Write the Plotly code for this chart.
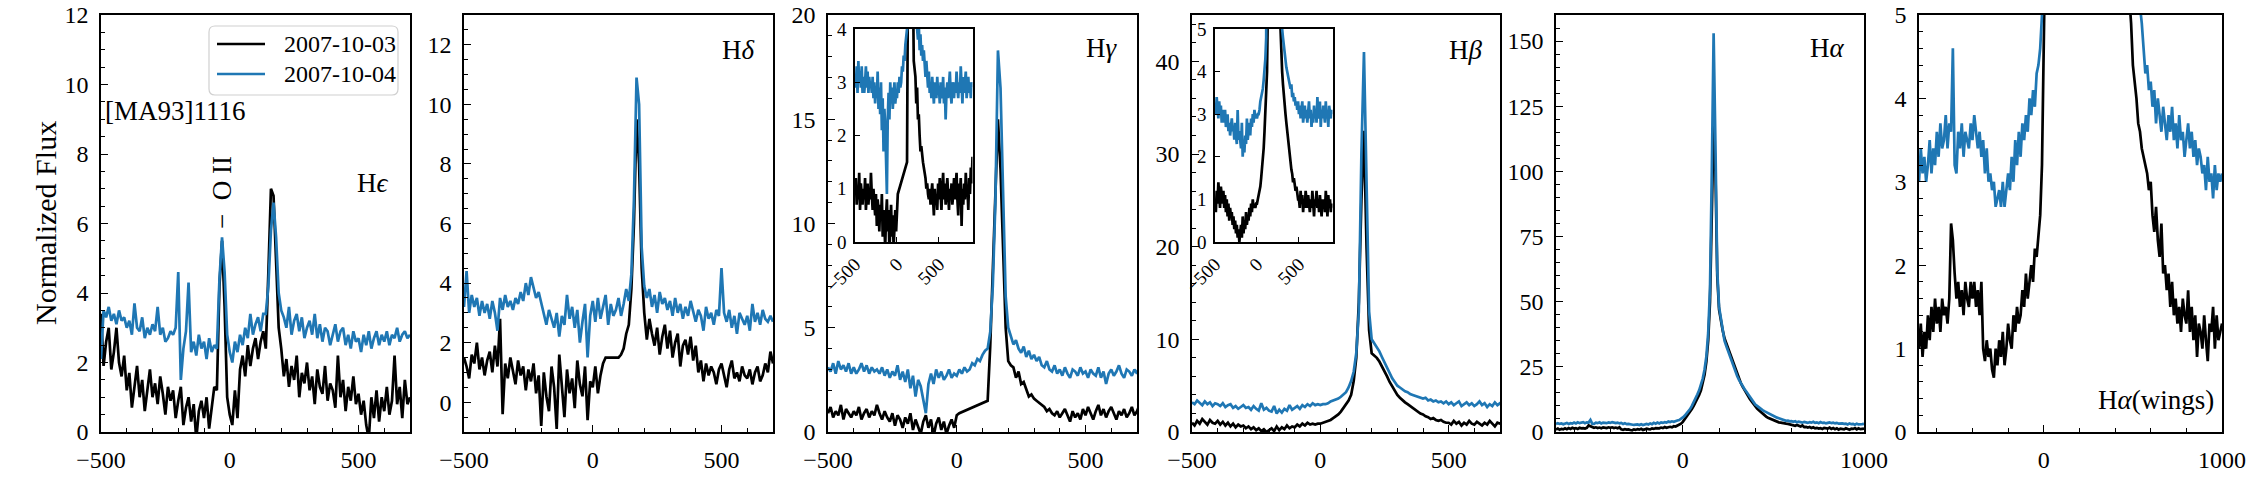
import plotly.graph_objects as go

W, H = 2250, 482
FONT = "Liberation Serif"
BLACK = "#000000"
BLUE = "#1f77b4"

# ------------------------------------------------------------------ data
DATES = ["2007-10-03", "2007-10-04"]

# H-epsilon (velocity grid -500..700 km/s, step 10)
HE_X = list(range(-500, 710, 10))
HE_BLACK = [3.4, 1.9, 2.6, 3.0, 1.8, 2.3, 3.0, 2.0, 1.6, 2.2,
            1.2, 1.7, 0.7, 1.4, 1.9, 1.0, 1.5, 0.6, 1.3, 1.8,
            1.0, 1.4, 0.8, 1.6, 1.1, 0.5, 1.3, 0.9, 1.2, 0.4,
            0.9, 1.3, 0.2, 0.7, 1.0, 0.3, 0.8, -0.2, 0.6, 0.9,
            0.4, 1.0, 0.1, 0.7, 1.3, 1.2, 4.2, 5.5, 3.6, 1.0,
            0.5, 0.2, 1.2, 0.4, 1.8, 2.2, 1.6, 2.5, 1.9, 2.4,
            2.7, 2.1, 2.6, 2.9, 2.4, 4.6, 7.0, 6.8, 4.8, 3.0,
            2.4, 1.6, 2.1, 1.3, 1.9, 1.5, 2.2, 1.0, 1.7, 1.4,
            2.0, 1.2, 1.6, 0.8, 1.8, 1.3, 1.1, 1.9, 0.9, 1.4,
            1.2, 0.7, 2.2, 1.0, 1.5, 0.6, 1.3, 0.9, 1.6, 0.8,
            1.1, 0.5, 0.9, 0.2, -0.2, 1.0, 0.4, 1.2, 0.3, 1.0,
            0.6, 1.3, 0.5, 0.9, 2.2, 0.8, 1.3, 0.4, 1.5, 0.8,
            1.0]
HE_BLUE = [2.1, 3.5, 3.3, 3.6, 3.2, 3.4, 3.1, 3.5, 3.2, 3.3,
           3.0, 3.2, 2.8, 3.7, 3.0, 2.9, 3.3, 2.7, 3.0, 2.8,
           3.1, 2.9, 3.6, 2.8, 3.0, 2.6, 2.7, 2.9, 2.8, 3.0,
           4.6, 1.5, 2.4, 2.9, 4.3, 2.3, 2.6, 2.2, 2.8, 2.4,
           2.6, 2.1, 2.7, 2.3, 2.5, 2.4, 4.4, 5.6, 4.6, 2.8,
           2.3, 2.0, 2.6, 2.3, 2.8, 2.5, 3.0, 2.7, 3.4, 2.8,
           3.1, 3.3, 2.9, 3.4, 3.4, 4.2, 5.8, 6.6, 5.6, 4.0,
           3.5, 3.3, 3.0, 3.6, 2.8, 3.2, 3.4, 2.9, 3.3, 2.7,
           3.0, 3.2, 2.8, 3.4, 2.7, 3.1, 2.6, 3.0, 2.9, 2.5,
           2.8, 3.1, 2.6, 2.9, 3.0, 2.5, 2.8, 2.4, 2.9, 2.6,
           2.7, 2.3, 2.8, 2.5, 2.9, 2.4, 2.7, 2.9, 2.5, 2.8,
           2.6, 2.9, 2.5, 2.8, 2.7, 3.0, 2.6, 2.8, 2.9, 2.7,
           2.8]

# H-delta
HD_X = list(range(-500, 710, 10))
HD_BLACK = [1.5, 1.2, 0.8, 1.6, 1.3, 2.0, 1.1, 1.5, 0.9, 1.4,
            1.7, 1.0, 1.9, 1.2, 2.8, -0.4, 1.3, 0.8, 1.5, 1.0,
            0.6, 1.4, 0.9, 1.2, 0.4, 1.1, 0.7, 1.3, 0.3, 0.9,
            -0.8, 1.0, 0.2, -0.3, 1.2, 0.5, -0.9, 1.6, 0.4, -0.5,
            1.1, 0.3, 0.8, -0.2, 1.4, 0.6, 0.2, 1.2, -0.6, 0.7,
            0.5, 1.2, 0.3, 0.9, 1.3, 1.5, 1.5, 1.5, 1.5, 1.5,
            1.5, 1.6, 1.8, 2.3, 2.6, 3.8, 6.0, 9.5, 8.0, 4.5,
            3.0, 2.1, 2.8, 2.3, 1.9, 2.5, 1.6, 2.2, 2.6, 1.8,
            2.4, 1.5, 2.0, 2.3, 1.2, 1.9, 2.1, 1.6, 2.2, 1.4,
            1.9, 1.0, 1.4, 0.7, 1.3, 0.9, 1.2, 1.0, 0.6, 1.1,
            1.3, 0.9, 0.5, 1.1, 1.4, 0.8, 1.0, 0.7, 1.2, 0.9,
            0.8, 1.1, 0.6, 1.0, 1.2, 0.7, 0.9, 1.3, 1.0, 1.7,
            1.3]
HD_BLUE = [3.2, 4.4, 3.0, 3.6, 3.2, 3.5, 2.9, 3.4, 3.0, 3.3,
           2.8, 3.4, 3.0, 2.4, 3.5, 3.1, 3.6, 3.2, 3.4, 3.1,
           3.5, 3.3, 3.7, 3.4, 4.0, 3.6, 4.2, 3.8, 3.5, 3.7,
           3.3, 3.0, 2.6, 3.1, 2.8, 2.5, 3.0, 2.2, 2.9, 2.6,
           3.6, 2.8, 3.2, 2.5, 3.1, 2.0, 2.7, 3.3, 1.5, 2.9,
           3.4, 2.7, 3.5, 2.8, 3.2, 3.6, 2.6, 3.3, 2.9, 3.1,
           3.5, 2.9, 3.3, 3.8, 3.4, 4.3, 6.8, 10.9, 10.0, 5.2,
           3.9, 3.5, 3.8, 3.2, 3.6, 3.0, 3.7, 3.3, 3.5, 3.1,
           3.4, 2.9, 3.5, 3.0, 3.3, 2.8, 3.2, 2.9, 3.4, 3.0,
           2.7, 3.1, 2.9, 2.4, 3.2, 2.8, 3.0, 2.6, 3.1, 2.9,
           4.5, 3.0, 2.7, 3.1, 2.5, 2.9, 2.3, 3.0, 2.8, 2.6,
           2.9, 2.4, 3.3, 2.7, 3.0, 2.6, 3.1, 2.8, 2.7, 2.9,
           2.7]

# H-gamma (grid -500..900; 2007-10-03 has a gap between 10 and 120 km/s)
HG_X_BLUE = list(range(-500, 910, 10))
HG_X_BLACK = [v for v in range(-500, 910, 10) if not 10 < v < 120]
HG_BLACK = [0.9, 1.2, 0.7, 1.0, 0.8, 1.3, 0.6, 1.1, 0.9, 0.7,
            1.0, 0.8, 1.2, 0.6, 0.9, 1.1, 0.7, 1.0, 0.8, 1.3,
            0.9, 0.6, 1.0, 0.7, 0.5, 0.9, 0.3, 0.8, 0.6, 0.2,
            0.7, 0.4, 0.9, 0.1, 0.6, 0.3, -0.1, 0.5, 0.8, 0.2,
            0.6, -0.2, 0.4, 0.7, 0.1, 0.5, -0.1, 0.3, 0.6, 0.2,
            0.8, 0.9,
            1.5, 4.1, 7.7, 11.2, 15.0, 12.6, 8.6, 5.0,
            3.4, 3.2, 3.1, 2.6, 2.9, 2.3, 2.4, 2.0, 1.7, 1.8,
            1.6, 1.5, 1.4, 1.3, 1.2, 1.0, 1.1, 0.9, 0.8, 1.0,
            0.7, 0.9, 1.1, 0.8, 0.5, 1.0, 0.7, 0.9, 0.6, 1.1,
            0.8, 1.2, 0.9, 0.6, 1.0, 1.3, 0.8, 1.1, 0.7, 1.0,
            1.2, 0.9, 0.6, 1.0, 0.8, 1.1, 0.7, 0.9, 1.2, 0.8,
            1.0, 1.3, 0.8, 0.5, 1.1, 0.9, 1.2, 0.3, 1.0, 0.7,
            1.1, 0.8, 1.3, 0.9, 1.0, 0.6, 1.2, 0.9, 1.4, 1.1,
            1.6]
HG_BLUE = [3.1, 2.9, 3.3, 2.8, 3.4, 3.0, 3.2, 2.9, 3.3, 2.8,
           3.1, 2.8, 3.0, 3.3, 2.9, 3.2, 2.8, 3.1, 2.9, 3.0,
           2.8, 3.1, 2.7, 3.0, 2.6, 2.9, 2.7, 3.2, 2.5, 2.9,
           2.4, 3.0, 2.1, 2.7, 1.7, 2.5, 2.2, 1.6, 0.9, 2.3,
           2.8, 2.3, 3.0, 2.6, 2.9, 2.5, 2.7, 3.0, 2.6, 2.8,
           2.7, 3.0, 2.8, 3.1, 2.9, 3.0, 3.3, 3.2, 3.5, 3.4,
           3.7, 3.9, 4.0, 4.8, 7.0, 11.0, 18.3, 16.5, 11.5, 6.5,
           5.0, 4.6, 4.2, 4.4, 4.0, 3.8, 4.1, 3.6, 3.9, 3.5,
           3.7, 3.4, 3.6, 3.2, 3.1, 3.4, 3.0, 2.9, 3.2, 2.8,
           3.0, 2.7, 3.1, 2.8, 2.6, 3.0, 2.9, 2.7, 3.1, 2.8,
           2.9, 2.6, 3.0, 2.8, 2.7, 3.1, 2.6, 2.9, 2.3, 2.8,
           3.0, 2.7, 2.9, 3.2, 2.8, 2.6, 3.0, 2.9, 2.7, 3.0,
           2.8, 3.2, 2.9, 2.7, 3.0, 2.8, 3.3, 2.9, 2.6, 3.1,
           2.8, 3.0, 3.2, 2.7, 2.9, 3.1, 2.8, 3.0, 2.7, 3.0,
           2.9]

# H-beta (grid -500..900)
HB_X = list(range(-500, 910, 10))
HB_BLACK = [1.0, 0.7, 1.2, 0.9, 1.4, 1.1, 0.8, 1.3, 1.0, 0.9,
            1.2, 0.8, 1.1, 0.7, 1.0, 0.6, 0.9, 0.5, 0.8, 0.6,
            0.7, 0.4, 0.6, 0.3, 0.5, 0.2, 0.4, 0.1, 0.3, 0.0,
            0.2, 0.4, 0.1, 0.6, 0.2, 0.5, 0.3, 0.7, 0.4, 0.6,
            0.5, 0.8, 0.6, 0.9, 0.7, 1.0, 0.8, 0.9, 0.8, 0.9,
            0.9, 1.0, 1.1, 1.2, 1.3, 1.5, 1.7, 1.9, 2.2, 2.6,
            3.0, 3.4, 4.0, 5.5, 8.0, 14.0, 25.0, 32.5, 20.0, 11.0,
            8.5, 8.3, 8.0, 7.6, 7.1, 6.6, 6.0, 5.4, 4.9, 4.4,
            4.0, 3.7, 3.4, 3.2, 3.0, 2.8, 2.6, 2.4, 2.2, 2.0,
            1.9, 1.7, 1.6, 1.4, 1.5, 1.3, 1.2, 1.3, 1.1, 1.0,
            1.0, 0.8, 1.2, 0.9, 1.1, 0.7, 1.0, 0.8, 1.2, 0.9,
            0.8, 1.1, 0.9, 0.7, 1.0, 0.8, 1.2, 0.9, 0.6, 1.0,
            0.9, 1.2, 0.8, 1.0, 0.7, 1.1, 0.9, 0.6, 1.0, 0.8,
            1.0, 0.7, 1.2, 0.9, 0.6, 1.1, 0.8, 1.0, 0.7, 0.9,
            0.8]
HB_BLUE = [3.2, 3.0, 3.4, 3.1, 2.9, 3.3, 3.0, 3.2, 2.8, 3.1,
           3.0, 2.8, 3.1, 2.7, 2.9, 3.0, 2.6, 2.8, 2.5, 2.7,
           2.9, 2.6, 2.7, 2.4, 2.8, 2.5, 2.3, 3.1, 2.4, 2.6,
           2.3, 2.2, 2.8, 2.0, 2.4, 2.1, 2.5, 2.3, 2.9, 2.4,
           2.6, 2.8, 2.5, 2.9, 2.7, 3.0, 2.8, 3.1, 2.9, 3.0,
           2.9, 3.0, 3.0, 3.1, 3.3, 3.4, 3.5, 3.6, 3.8, 4.0,
           4.3, 4.8, 5.5, 6.5, 8.5, 13.0, 30.0, 41.0, 27.0, 13.0,
           10.0, 9.6, 9.2, 8.7, 8.1, 7.5, 6.9, 6.3, 5.8, 5.4,
           5.0, 4.8, 4.6, 4.4, 4.3, 4.1, 4.0, 3.9, 3.8, 3.7,
           3.6, 3.7, 3.4, 3.5, 3.3, 3.4, 3.2, 3.3, 3.1, 3.3,
           3.0, 3.2, 2.9, 3.1, 3.3, 2.8, 3.0, 3.2, 2.9, 3.1,
           2.8, 3.0, 3.3, 2.9, 3.1, 2.7, 3.0, 2.8, 3.2, 2.9,
           3.1, 2.8, 3.4, 3.0, 2.9, 3.3, 2.7, 3.1, 2.9, 3.2,
           3.0, 2.8, 3.3, 2.9, 3.1, 2.7, 3.2, 3.0, 2.9, 3.1,
           3.0]

# H-alpha (grid -700..1000), shown in full and as wings
HA_X = list(range(-700, 1010, 10))
HA_BLACK = [1.0, 1.3, 0.9, 1.2, 1.0, 1.4, 1.1, 1.5, 1.2, 1.6,
            1.3, 1.5, 1.2, 1.6, 1.4, 1.5, 1.3, 1.6, 2.5, 2.3,
            1.9, 1.6, 1.8, 1.5, 1.7, 1.4, 1.8, 1.6, 1.5, 1.8,
            1.6, 1.8, 1.5, 1.7, 1.4, 1.8, 1.0, 0.85, 1.1, 0.9,
            1.0, 0.75, 0.65, 1.0, 0.8, 1.1, 0.9, 1.2, 0.8, 1.0,
            1.3, 1.1, 1.0, 1.4, 1.2, 1.5, 1.3, 1.4, 1.7, 1.5,
            1.9, 1.6, 1.8, 2.0, 1.8, 2.2, 2.1, 2.4, 2.6, 3.2,
            3.9, 4.8, 5.8, 6.8, 7.8, 8.8, 10.0, 11.3, 12.7, 14.2,
            16.0, 18.5, 22.0, 27.0, 35.0, 50.0, 85.0, 118.0, 100.0, 60.0,
            47.0, 42.0, 39.0, 36.0, 34.0, 32.0, 30.0, 28.0, 26.0, 24.0,
            22.0, 20.3, 18.8, 17.4, 16.1, 14.9, 13.8, 12.7, 11.7, 10.7,
            9.8, 9.0, 8.3, 7.6, 7.0, 6.4, 5.9, 5.5, 5.2, 4.9,
            4.4, 4.2, 4.0, 3.7, 3.6, 3.4, 3.3, 3.2, 3.1, 2.9,
            3.0, 2.6, 2.4, 2.7, 2.3, 2.1, 2.5, 1.9, 2.0, 1.7,
            1.9, 1.5, 1.8, 1.4, 1.6, 1.3, 1.5, 1.2, 1.6, 1.4,
            1.3, 1.7, 1.2, 1.5, 1.1, 1.4, 0.9, 1.3, 1.2, 1.0,
            1.4, 1.1, 0.85, 1.3, 1.2, 1.5, 1.0, 1.4, 1.1, 1.2,
            1.3]
HA_BLUE = [3.0, 3.4, 3.1, 3.3, 3.0, 3.2, 3.5, 3.1, 3.4, 3.2,
           3.6, 3.3, 3.7, 3.4, 3.5, 3.8, 3.4, 3.7, 3.6, 4.6,
           3.2, 3.1, 3.6, 3.4, 3.7, 3.3, 3.6, 3.5, 3.4, 3.7,
           3.5, 3.8, 3.6, 3.4, 3.6, 3.3, 3.5, 3.1, 3.4, 3.0,
           3.1, 2.9, 3.0, 2.7, 2.8, 2.9, 2.7, 3.0, 2.7, 2.9,
           3.1, 2.9, 3.3, 3.0, 3.5, 3.2, 3.6, 3.3, 3.7, 3.5,
           3.8, 3.6, 4.0, 3.8, 4.1, 3.9, 4.3, 4.4, 4.6, 5.0,
           5.6, 6.2, 7.0, 7.8, 8.8, 10.0, 11.3, 12.8, 14.4, 16.0,
           18.0, 20.5, 24.0, 29.0, 38.0, 55.0, 100.0, 153.0, 110.0, 62.0,
           48.0, 43.0, 38.0, 35.0, 33.0, 31.0, 29.0, 27.0, 25.0, 23.0,
           21.5, 20.0, 18.7, 17.5, 16.5, 15.5, 14.5, 13.5, 12.5, 11.5,
           10.5, 10.0, 9.4, 8.9, 8.4, 8.0, 7.6, 7.2, 6.8, 6.4,
           6.1, 5.8, 5.5, 5.3, 5.1, 4.9, 4.6, 4.3, 4.4, 4.1,
           4.2, 3.9, 4.1, 3.7, 4.0, 3.8, 3.6, 3.9, 3.7, 3.5,
           3.8, 3.6, 3.9, 3.5, 3.7, 3.4, 3.8, 3.5, 3.6, 3.3,
           3.5, 3.7, 3.4, 3.6, 3.3, 3.5, 3.2, 3.4, 3.3, 3.1,
           3.2, 2.9, 3.3, 3.0, 3.1, 2.8, 3.2, 2.9, 3.1, 3.0,
           3.1]

LINE_LABELS = ["H<i>ϵ</i>", "H<i>δ</i>", "H<i>γ</i>", "H<i>β</i>", "H<i>α</i>", "H<i>α</i>(wings)"]

# ------------------------------------------------------------------ layout helpers
def px(x):
    return x / W


def py(y):
    return 1 - y / H


PANELS = [(101, 410), (464, 773), (828, 1137), (1192, 1500), (1556, 1864), (1919, 2222)]
TOP, BOTTOM = 15, 432
INSETS = [(855, 972.5), (1215, 1332.5)]
INSET_TOP, INSET_BOTTOM = 29, 242
LW = 2.7

fig = go.Figure()

panel_data = [
    ([(HE_X, HE_BLACK), (HE_X, HE_BLUE)], 1),
    ([(HD_X, HD_BLACK), (HD_X, HD_BLUE)], 2),
    ([(HG_X_BLACK, HG_BLACK), (HG_X_BLUE, HG_BLUE)], 3),
    ([(HB_X, HB_BLACK), (HB_X, HB_BLUE)], 4),
    ([(HA_X, HA_BLACK), (HA_X, HA_BLUE)], 5),
    ([(HA_X, HA_BLACK), (HA_X, HA_BLUE)], 6),
    ([(HG_X_BLACK, HG_BLACK), (HG_X_BLUE, HG_BLUE)], 7),
    ([(HB_X, HB_BLACK), (HB_X, HB_BLUE)], 8),
]

for series, k in panel_data:
    suffix = "" if k == 1 else str(k)
    for (xs, ys), col, name in zip(series, [BLACK, BLUE], DATES):
        fig.add_trace(go.Scatter(
            x=xs, y=ys, mode="lines", name=name,
            line=dict(color=col, width=LW),
            xaxis="x" + suffix, yaxis="y" + suffix,
            showlegend=False, hoverinfo="skip"))


def base_axis(size=24, standoff=6):
    return dict(showline=True, linecolor="black", linewidth=1.6, mirror=True,
                ticks="inside", ticklen=7, tickwidth=1.3, tickcolor="black",
                showgrid=False, zeroline=False, automargin=False,
                ticklabelstandoff=standoff, ticklabeloverflow="allow",
                tickfont=dict(family=FONT, size=size, color="black"))


def minor(d, tick0=0):
    return dict(ticks="inside", ticklen=4, tickwidth=1, tickcolor="black",
                dtick=d, tick0=tick0, showgrid=False)


X_SPECS = [([-500, 700], 500, 100), ([-500, 700], 500, 100), ([-500, 700], 500, 100),
           ([-500, 700], 500, 100), ([-700, 1000], 1000, 200), ([-700, 1000], 1000, 200)]
Y_SPECS = [([0, 12], 2, 0.5), ([-1, 13], 2, 0.5), ([0, 20], 5, 1),
           ([0, 45], 10, 2), ([0, 160], 25, 5), ([0, 5], 1, 0.2)]

layout = {}
for i in range(6):
    suffix = "" if i == 0 else str(i + 1)
    x0, x1 = PANELS[i]
    xr, xd, xm = X_SPECS[i]
    yr, yd, ym = Y_SPECS[i]
    xa = base_axis(standoff=5)
    xa.update(domain=[px(x0), px(x1)], range=xr, dtick=xd, tick0=0,
              minor=minor(xm), anchor="y" + suffix)
    ya = base_axis(standoff=6)
    ya.update(domain=[py(BOTTOM), py(TOP)], range=yr, dtick=yd, tick0=0,
              minor=minor(ym), anchor="x" + suffix)
    layout["xaxis" + suffix] = xa
    layout["yaxis" + suffix] = ya

for j, (k, yr) in enumerate([(7, [0, 4]), (8, [0, 5])]):
    x0, x1 = INSETS[j]
    xa = base_axis(size=19, standoff=2)
    xa.update(domain=[px(x0), px(x1)], range=[-500, 900], dtick=500, tick0=0,
              tickangle=-45, ticklen=5, anchor="y%d" % k)
    ya = base_axis(size=19, standoff=3)
    ya.update(domain=[py(INSET_BOTTOM), py(INSET_TOP)], range=yr, dtick=1, tick0=0,
              ticklen=5, anchor="x%d" % k)
    layout["xaxis%d" % k] = xa
    layout["yaxis%d" % k] = ya

annotations = []


def text(s, x, y, size=27, xanchor="center", angle=0):
    annotations.append(dict(text=s, x=px(x), y=py(y), xref="paper", yref="paper",
                            xanchor=xanchor, yanchor="middle", showarrow=False,
                            textangle=angle,
                            font=dict(family=FONT, size=size, color="black")))


text("Normalized Flux", 45, 223, size=30, angle=-90)
text("[MA93]1116", 103, 111, xanchor="left")
text("−  O II", 222, 193, size=27, angle=-90)
label_pos = [(373, 183), (738, 50), (1102, 48), (1466, 50), (1827, 48), (2156, 400)]
for lab, (x, y) in zip(LINE_LABELS, label_pos):
    text(lab, x, y)

# legend (drawn by hand to match the matplotlib-style box)
LEG = (209, 26, 398, 95)
r = 6
lx0, ly0, lx1, ly1 = LEG


def P(x, y):
    return "%.6f,%.6f" % (px(x), py(y))


path = ("M" + P(lx0 + r, ly0) + " L" + P(lx1 - r, ly0) + " Q" + P(lx1, ly0) + " " + P(lx1, ly0 + r) +
        " L" + P(lx1, ly1 - r) + " Q" + P(lx1, ly1) + " " + P(lx1 - r, ly1) +
        " L" + P(lx0 + r, ly1) + " Q" + P(lx0, ly1) + " " + P(lx0, ly1 - r) +
        " L" + P(lx0, ly0 + r) + " Q" + P(lx0, ly0) + " " + P(lx0 + r, ly0) + " Z")
shapes = [dict(type="path", path=path, xref="paper", yref="paper",
               line=dict(color="#d0d0d0", width=1.2), fillcolor="rgba(255,255,255,0.8)")]
for (yy, col, lab) in [(44, BLACK, DATES[0]), (74, BLUE, DATES[1])]:
    shapes.append(dict(type="line", xref="paper", yref="paper",
                       x0=px(217), x1=px(265), y0=py(yy), y1=py(yy),
                       line=dict(color=col, width=LW)))
    text(lab, 282, yy, size=24, xanchor="left")

fig.update_layout(
    width=W, height=H, autosize=False,
    margin=dict(l=0, r=0, t=0, b=0, pad=0),
    paper_bgcolor="white", plot_bgcolor="white",
    showlegend=False,
    annotations=annotations, shapes=shapes,
    **layout)

fig.write_html("out.html")
